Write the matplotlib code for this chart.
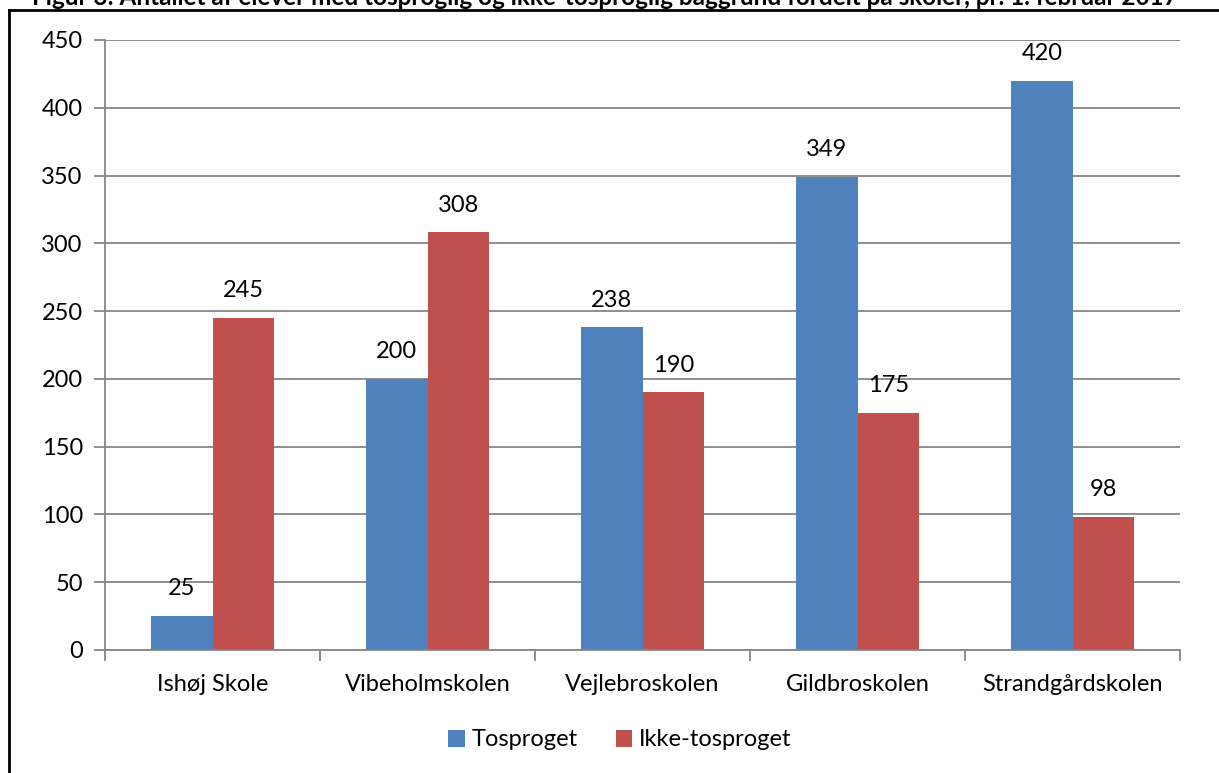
import matplotlib.pyplot as plt
import numpy as np

schools = ['Ishøj Skole', 'Vibeholmskolen', 'Vejlebroskolen', 'Gildbroskolen', 'Strandgårdskolen']
tosproget = [25, 200, 238, 349, 420]
ikke_tosproget = [245, 308, 190, 175, 98]

title = 'Figur 3: Antallet af elever med tosproglig og ikke-tosproglig baggrund fordelt på skoler, pr. 1. februar 2017'

plt.rcParams['font.family'] = ['Lato', 'DejaVu Sans']
fs = 17

W, H = 1219, 773
fig = plt.figure(figsize=(W / 100, H / 100), dpi=100)
ax = fig.add_axes([105 / W, 1 - 650 / H, (1180 - 105) / W, (650 - 40) / H])

x = np.arange(len(schools))
bw = 0.286
b1 = ax.bar(x - bw / 2, tosproget, bw, color='#4F81BD', label='Tosproget')
b2 = ax.bar(x + bw / 2, ikke_tosproget, bw, color='#C0504D', label='Ikke-tosproget')

for bars in (b1, b2):
    for b in bars:
        ax.annotate(str(int(b.get_height())), (b.get_x() + b.get_width() / 2, b.get_height()),
                    xytext=(0, 12), textcoords='offset points', ha='center', va='bottom', fontsize=fs)

ax.set_xlim(-0.5, len(schools) - 0.5)
ax.set_ylim(0, 450)
ax.set_yticks(range(0, 451, 50))
ax.yaxis.grid(True, color='#868686', linewidth=1.3)
ax.set_axisbelow(True)

ax.set_xticks(x)
ax.set_xticklabels(schools, fontsize=fs)
ax.set_xticks(np.arange(-0.5, len(schools), 1), minor=True)
ax.tick_params(axis='x', which='major', length=0, pad=17)
ax.tick_params(axis='x', which='minor', length=8, width=1.3, color='#868686')
ax.tick_params(axis='y', length=8, width=1.3, color='#868686', labelsize=fs, pad=8)

for s in ['top', 'right']:
    ax.spines[s].set_visible(False)
for s in ['left', 'bottom']:
    ax.spines[s].set_color('#868686')
    ax.spines[s].set_linewidth(1.3)

fig.legend(loc='center', bbox_to_anchor=(620 / W, 1 - 740 / H), ncol=2, frameon=False,
           fontsize=fs, handlelength=0.7, handleheight=0.7, columnspacing=1.6, handletextpad=0.3)

# outer frame of the chart
fig.add_artist(plt.Line2D([9 / W, 9 / W], [0, 1 - 10 / H], color='black', linewidth=2, transform=fig.transFigure))
fig.add_artist(plt.Line2D([9 / W, 1219 / W], [1 - 10 / H, 1 - 10 / H], color='black', linewidth=2, transform=fig.transFigure))

fig.text(605 / W, 1 - 5 / H, title, ha='center', va='baseline', fontsize=fs + 0.5, fontweight='bold')

fig.savefig('out.png', dpi=100)
